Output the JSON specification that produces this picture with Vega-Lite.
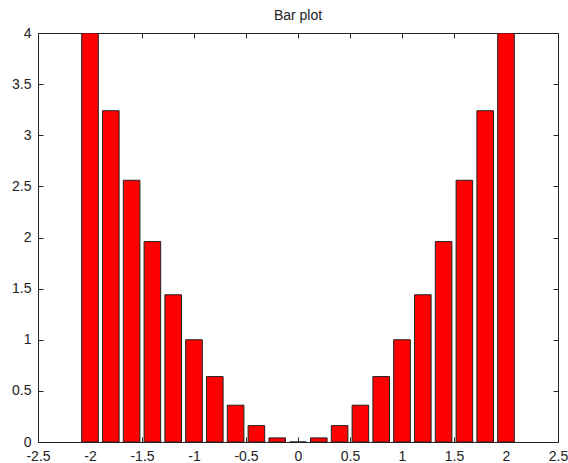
{
  "$schema": "https://vega.github.io/schema/vega-lite/v6.json",
  "autosize": {"type": "none"},
  "width": 520,
  "height": 409,
  "padding": {"left": 38, "top": 33, "right": 10, "bottom": 21},
  "background": "white",
  "title": {"text": "Bar plot", "fontSize": 14, "fontWeight": "normal", "font": "Liberation Sans", "color": "#222", "offset": 3},
  "config": {
    "view": {"stroke": "#222", "strokeWidth": 1},
    "axis": {"grid": false, "domain": false, "tickColor": "#222", "tickSize": -5, "labelFont": "Liberation Sans", "labelFontSize": 14, "labelColor": "#222", "title": null}
  },
  "data": {"values": [
    {"x": -2.0, "y": 4.0}, {"x": -1.8, "y": 3.24}, {"x": -1.6, "y": 2.56}, {"x": -1.4, "y": 1.96},
    {"x": -1.2, "y": 1.44}, {"x": -1.0, "y": 1.0}, {"x": -0.8, "y": 0.64}, {"x": -0.6, "y": 0.36},
    {"x": -0.4, "y": 0.16}, {"x": -0.2, "y": 0.04}, {"x": 0.0, "y": 0.0}, {"x": 0.2, "y": 0.04},
    {"x": 0.4, "y": 0.16}, {"x": 0.6, "y": 0.36}, {"x": 0.8, "y": 0.64}, {"x": 1.0, "y": 1.0},
    {"x": 1.2, "y": 1.44}, {"x": 1.4, "y": 1.96}, {"x": 1.6, "y": 2.56}, {"x": 1.8, "y": 3.24},
    {"x": 2.0, "y": 4.0}
  ]},
  "layer": [
    {
      "mark": {"type": "bar", "size": 16.6, "fill": "#ff0000", "stroke": "#222", "strokeWidth": 1, "clip": true},
      "encoding": {
        "x": {"field": "x", "type": "quantitative", "scale": {"domain": [-2.5, 2.5], "nice": false, "zero": false, "padding": 0},
              "axis": {"orient": "bottom", "values": [-2.5, -2, -1.5, -1, -0.5, 0, 0.5, 1, 1.5, 2, 2.5], "labelFlush": false, "labelPadding": 12, "labelExpr": "datum.value + ''"}},
        "y": {"field": "y", "type": "quantitative", "scale": {"domain": [0, 4], "nice": false, "padding": 0},
              "axis": {"orient": "left", "values": [0, 0.5, 1, 1.5, 2, 2.5, 3, 3.5, 4], "labelFlush": false, "labelPadding": 12, "labelExpr": "datum.value + ''"}}
      }
    },
    {
      "mark": {"type": "point", "opacity": 0},
      "encoding": {
        "x": {"field": "x", "type": "quantitative", "scale": {"domain": [-2.5, 2.5], "nice": false, "zero": false, "padding": 0},
              "axis": {"orient": "top", "values": [-2.5, -2, -1.5, -1, -0.5, 0, 0.5, 1, 1.5, 2, 2.5], "labels": false}},
        "y": {"field": "y", "type": "quantitative", "scale": {"domain": [0, 4], "nice": false, "padding": 0},
              "axis": {"orient": "right", "values": [0, 0.5, 1, 1.5, 2, 2.5, 3, 3.5, 4], "labels": false}}
      }
    }
  ],
  "resolve": {"axis": {"x": "independent", "y": "independent"}}
}
